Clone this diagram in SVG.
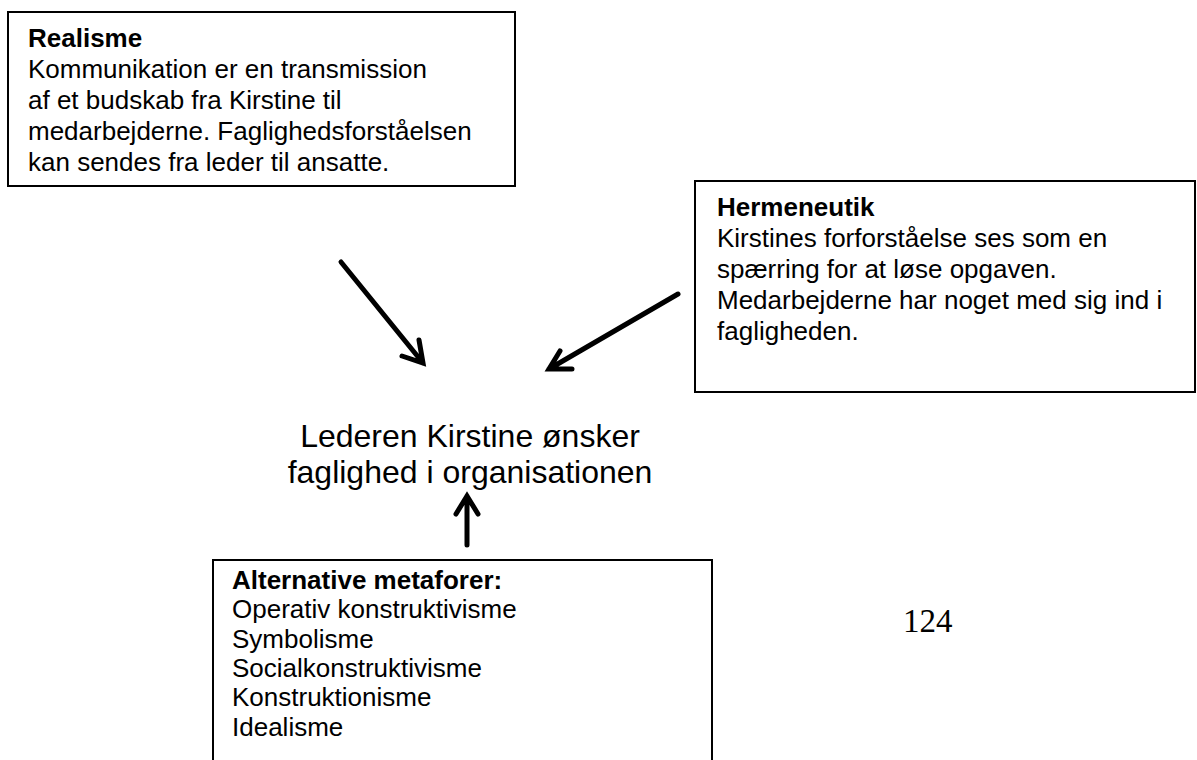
<svg xmlns="http://www.w3.org/2000/svg" width="1197" height="760" viewBox="0 0 1197 760">
<style>
.box{fill:#fff;stroke:#000;stroke-width:2}
.t{font-family:"Liberation Sans",Arial,sans-serif;font-size:26px;fill:#000}
.b{font-weight:bold}
.c{font-family:"Liberation Sans",Arial,sans-serif;font-size:32px;fill:#000;text-anchor:middle}
.arr{fill:none;stroke:#000;stroke-width:5;stroke-linecap:round;stroke-linejoin:miter}
</style>
<rect width="1197" height="760" fill="#fff"/>
<g id="realisme">
<rect class="box" x="8" y="12" width="507" height="174"/>
<text class="t" x="28"><tspan class="b" x="28" y="47">Realisme</tspan><tspan x="28" y="78">Kommunikation er en transmission</tspan><tspan x="28" y="109">af et budskab fra Kirstine til</tspan><tspan x="28" y="140">medarbejderne. Faglighedsforståelsen</tspan><tspan x="28" y="171">kan sendes fra leder til ansatte.</tspan></text>
</g>
<g id="hermeneutik">
<rect class="box" x="695" y="181" width="500" height="211"/>
<text class="t"><tspan class="b" x="717" y="216">Hermeneutik</tspan><tspan x="717" y="247">Kirstines forforståelse ses som en</tspan><tspan x="717" y="278">spærring for at løse opgaven.</tspan><tspan x="717" y="309">Medarbejderne har noget med sig ind i</tspan><tspan x="717" y="340">fagligheden.</tspan></text>
</g>
<g id="center">
<text class="c"><tspan x="470" y="447">Lederen Kirstine ønsker</tspan><tspan x="470" y="483">faglighed i organisationen</tspan></text>
</g>
<g id="alternative">
<rect class="box" x="213" y="560" width="499" height="220"/>
<text class="t"><tspan class="b" x="232" y="589">Alternative metaforer:</tspan><tspan x="232" y="618">Operativ konstruktivisme</tspan><tspan x="232" y="648">Symbolisme</tspan><tspan x="232" y="677">Socialkonstruktivisme</tspan><tspan x="232" y="706">Konstruktionisme</tspan><tspan x="232" y="736">Idealisme</tspan></text>
</g>
<g id="pagenum">
<text x="903" y="632" style="font-family:'Liberation Serif','Times New Roman',serif;font-size:33px;fill:#000">124</text>
</g>
<g id="connectors">
<path class="arr" d="M341 262 L423 363 M419 340 L423 363 L402 356"/>
<path class="arr" d="M678 294 L549 369 M560 351 L549 369 L572 369"/>
<path class="arr" d="M467 545 L467 496 M456 514 L467 496 L478 514"/>
</g>
</svg>
